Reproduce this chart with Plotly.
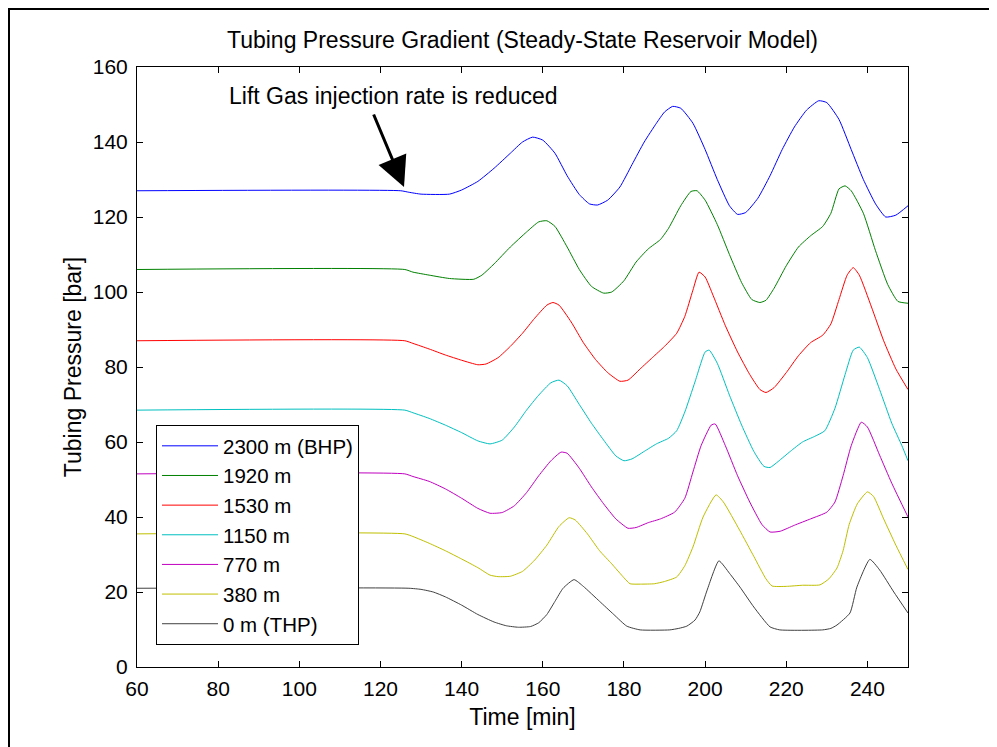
import plotly.graph_objects as go

# ---------------- data ----------------
t_2300 = [60, 125, 127, 130, 137, 140, 144, 148, 152, 155, 157.5, 160, 163, 166, 169, 171.5, 173.5, 176, 179, 182, 185, 188, 190, 192, 194, 197, 200, 203, 206, 208, 210, 213, 216, 219, 222, 225, 228, 230, 233, 236, 239, 242, 244.5, 247, 250]
p_2300 = [127.0, 127.0, 126.6, 126.1, 126.1, 127.2, 129.5, 133, 137, 140, 141.3, 140.5, 137, 131, 126, 123.5, 123.2, 124.5, 128, 134, 140, 145, 148, 149.5, 149, 145, 138, 130, 123, 120.7, 121.2, 125, 131, 138, 144, 148.5, 151, 150.5, 146, 138, 130, 123.5, 120, 120.5, 123]

t_1920 = [60, 126, 128, 132, 137, 143, 145, 148, 152, 156, 159, 161, 163, 166, 169, 172, 175, 177, 180, 183, 186, 189, 191, 194, 196.5, 198, 200, 203, 206, 209, 211.5, 213.5, 215, 217, 220, 223, 226, 229, 231, 233, 234.5, 236, 239, 242, 245, 247.5, 250]
p_1920 = [106, 106, 105.3, 104.5, 103.6, 103.4, 104.5, 107.5, 112, 116, 118.7, 119, 117.5, 112, 106, 101.5, 99.7, 100, 103, 108, 111.5, 114, 117, 123, 126.8, 127, 124.5, 118, 110, 102.5, 98, 97.2, 97.8, 101, 107, 112, 115, 117.5, 121, 127.5, 128.3, 127, 121, 111, 102, 97.5, 97]

t_1530 = [60, 126, 128, 132, 136, 140, 144, 146, 149, 152, 155, 158, 161, 162.5, 164, 167, 170, 173, 176, 179, 181, 184, 187, 190, 193, 195, 197, 198.5, 200, 202, 205, 208, 211, 213.5, 215, 217, 220, 223, 226, 229, 231, 233, 235, 236.5, 238, 241, 244, 247, 250]
p_1530 = [87, 87, 86.3, 84.8, 83.2, 81.8, 80.6, 80.8, 82.5, 85.5, 89, 93, 96.5, 97.2, 96.5, 92, 86.5, 82, 78.5, 76.2, 76.5, 79.5, 82.5, 85.5, 89, 93.5, 100.5, 105.3, 104, 99, 91, 84, 78, 74, 73.2, 74.5, 78.5, 83, 86.5, 88.5, 91.5, 98, 104.5, 106.5, 104.5, 96, 87, 79.5, 74]

t_1150 = [60, 126, 128, 132, 136, 140, 144, 147, 150, 153, 156, 159, 162, 164, 166, 169, 172, 175, 178, 180, 182, 185, 188, 191, 193, 195, 197.5, 200, 201, 203, 206, 209, 212, 214.5, 216, 218, 221, 224, 227, 229.5, 232, 234.5, 236.5, 238, 240, 243, 246, 248.5, 250]
p_1150 = [68.5, 68.5, 67.8, 66.3, 64.5, 62.5, 60.3, 59.5, 60.5, 64, 68.5, 72.5, 75.8, 76.5, 75, 70, 65, 60.5, 56.3, 55, 55.5, 57.5, 59.5, 61, 63, 68, 76, 84, 84.5, 81, 72.5, 64.5, 57.5, 53.5, 53.2, 54.8, 57.5, 60, 61.5, 63, 69, 78, 84.5, 85.3, 82.5, 74, 65, 59, 55]

t_770 = [60, 126, 128, 132, 136, 140, 144, 147, 150, 153, 156, 159, 162, 164.5, 166, 169, 172, 175, 178, 181, 183, 186, 189, 192.5, 195, 197, 199, 201.5, 202.5, 205, 208, 211, 214, 216, 218.5, 222, 226, 230, 232, 234, 236, 238.5, 240, 243, 246, 250]
p_770 = [51.5, 51.5, 50.8, 49.5, 47.5, 45, 42.3, 41, 41.2, 43, 46.5, 51, 55, 57.3, 57, 53, 48, 43.5, 39.5, 37, 37.2, 38.5, 39.5, 41.3, 45, 52, 59, 64.5, 64.8, 59, 51, 44, 38, 36, 36.2, 37.8, 39.5, 41.3, 44, 51, 59, 65.3, 64, 56.5, 49, 40]

t_380 = [60, 126, 128, 132, 136, 140, 144, 147, 149, 152, 155, 158, 161, 164, 166.5, 168, 171, 174, 177, 180, 181.5, 184, 187.5, 190, 193, 195, 197, 199.5, 202.7, 204.5, 208.5, 212, 215, 216.5, 220, 224, 228.3, 230.5, 232.5, 234, 235.5, 237.5, 240, 241.5, 244, 247, 250]
p_380 = [35.5, 35.5, 34.8, 33, 31, 28.8, 26.5, 24.5, 24.1, 24.2, 25.5, 28.5, 32.5, 37.5, 39.8, 39.2, 35.5, 31, 27.5, 23.8, 22.2, 22.1, 22.2, 22.8, 24, 27, 32, 40, 45.9, 44, 36.5, 29.5, 23.5, 21.6, 21.5, 21.8, 21.9, 23.5, 26.4, 31, 38, 43.5, 46.7, 45.5, 39.5, 32.5, 26]

t_0 = [60, 127, 130, 133, 136, 140, 144, 148, 151, 154, 157, 159, 161, 163, 165, 167.7, 170, 174, 177.5, 180.7, 184, 191.3, 193.5, 195.5, 197.5, 198.7, 200.5, 203.4, 206, 208.6, 212, 216, 218.4, 229, 231, 232.5, 235.7, 237.4, 240.6, 243, 246.5, 250]
p_0 = [21, 21, 20.7, 20, 18.7, 16.5, 14, 12, 11, 10.6, 10.8, 11.8, 14, 17.5, 21, 23.3, 21.5, 17.5, 14, 10.9, 9.9, 9.9, 10.3, 10.9, 12.5, 14.7, 20.5, 28.3, 25, 21.3, 16, 10.7, 9.9, 9.9, 10.3, 11.2, 14.4, 21.3, 28.7, 25.9, 20, 14.4]

series_names = ["2300 m (BHP)", "1920 m", "1530 m", "1150 m", "770 m", "380 m", "0 m (THP)"]
series_t = [t_2300, t_1920, t_1530, t_1150, t_770, t_380, t_0]
series_p = [p_2300, p_1920, p_1530, p_1150, p_770, p_380, p_0]
series_colors = ["#0000ff", "#008000", "#ff0000", "#00bfbf", "#bf00bf", "#bfbf00", "#404040"]

x_ticks = [60, 80, 100, 120, 140, 160, 180, 200, 220, 240]
y_ticks = [0, 20, 40, 60, 80, 100, 120, 140, 160]

FONT = "Liberation Sans, Arial, sans-serif"
FS = 23
FS_TICK = 21
FS_LEG = 20.5

W, H = 989, 739
L, R, T, B = 129, 89, 59, 80
PW, PH = W - L - R, H - T - B

fig = go.Figure()
for i, (name, tt, pp, col) in enumerate(zip(series_names, series_t, series_p, series_colors)):
    fig.add_trace(go.Scatter(
        x=tt, y=pp, mode="lines", name=name, legendgroup="g%d" % i,
        line=dict(color=col, width=1, shape="spline", smoothing=0.5),
    ))

axis_common = dict(
    showline=True, linecolor="black", linewidth=1, mirror="ticks",
    ticks="inside", ticklen=6, tickcolor="black", tickwidth=1,
    showgrid=False, zeroline=False,
    tickfont=dict(family=FONT, size=FS_TICK, color="black"),
)

fig.update_layout(
    width=W, height=H,
    margin=dict(l=L, r=R, t=T, b=B),
    paper_bgcolor="white", plot_bgcolor="white",
    font=dict(family=FONT, size=FS, color="black"),
    title=dict(text="Tubing Pressure Gradient (Steady-State Reservoir Model)",
               x=(L + PW / 2) / W, xanchor="center", y=1 - 32 / H, yanchor="middle",
               font=dict(family=FONT, size=FS, color="black")),
    xaxis=dict(range=[60, 250], tickvals=x_ticks, ticktext=[str(v) for v in x_ticks],
               ticklabelstandoff=3,
               title=dict(text="Time [min]", standoff=9, font=dict(size=FS)), **axis_common),
    yaxis=dict(range=[0, 160], tickvals=y_ticks, ticktext=[str(v) for v in y_ticks],
               ticklabelstandoff=4,
               title=dict(text="Tubing Pressure [bar]", standoff=4, font=dict(size=FS)), **axis_common),
    legend=dict(x=(156 - 137) / PW, y=(667 - 645) / PH, xanchor="left", yanchor="bottom",
                bordercolor="black", borderwidth=1, bgcolor="white",
                font=dict(family=FONT, size=FS_LEG, color="black"),
                traceorder="normal", tracegroupgap=0, itemwidth=56),
    showlegend=True,
)

# arrow annotation
fig.add_annotation(x=125.8, y=128, xref="x", yref="y", text="", showarrow=True,
                   ax=-31, ay=-74, axref="pixel", ayref="pixel",
                   arrowhead=2, arrowsize=2.0, arrowwidth=3, arrowcolor="black")
fig.add_annotation(x=(393 - 137) / (771 / 190) + 60, y=(667 - 96) / 3.75, xref="x", yref="y",
                   text="Lift Gas injection rate is reduced", showarrow=False,
                   font=dict(family=FONT, size=FS, color="black"),
                   xanchor="center", yanchor="middle")

# figure border box
fig.add_shape(type="rect", xref="paper", yref="paper",
              x0=(1 - L) / PW, x1=1.3, y0=-0.3, y1=(T + PH - 1) / PH,
              line=dict(color="black", width=2), fillcolor="rgba(0,0,0,0)", layer="above")

fig.write_html("out.html")
